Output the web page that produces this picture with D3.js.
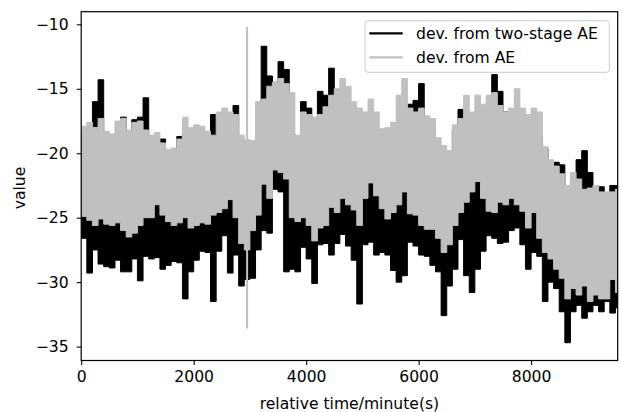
<!DOCTYPE html>
<html>
<head>
<meta charset="utf-8">
<script src="https://cdn.jsdelivr.net/npm/d3@7"></script>
<style>
  body { margin: 0; background: #fff; }
  text { font-family: "DejaVu Sans", sans-serif; font-size: 15.6px; fill: #000; }
</style>
</head>
<body>
<div class="chart"></div>
<script>
const width = 622;
const height = 412;

// start of each 100-minute bin; values are the min/max envelope
const binStart = d3.range(0, 9600, 100);

const twoStageHi = [
  -18.5, -19.5, -16.0, -14.3, -19.5, -19.8, -19.5, -17.2, -18.5, -17.4,
  -17.2, -15.7, -19.5, -20.0, -18.9, -20.3, -20.2, -18.7, -18.5, -19.0,
  -19.8, -19.8, -18.4, -17.0, -17.5, -19.0, -18.5, -16.3, -19.5, -19.0,
  -19.8, -19.0, -11.7, -14.0, -14.5, -12.9, -13.5, -18.5, -19.5, -16.0,
  -16.5, -19.4, -15.2, -15.5, -13.4, -16.5, -17.5, -16.8, -18.5, -17.2,
  -19.0, -19.5, -19.2, -18.3, -19.5, -19.5, -19.0, -18.0, -16.2, -15.9,
  -14.6, -17.5, -18.0, -19.6, -20.8, -20.5, -18.2, -16.6, -18.5, -18.5,
  -18.0, -17.5, -17.2, -13.9, -15.2, -16.8, -18.5, -17.0, -18.5, -18.5,
  -18.5, -18.8, -19.6, -21.0, -20.7, -20.9, -23.0, -22.0, -20.5, -19.8,
  -21.5, -23.0, -22.6, -23.5, -22.5, -22.5
];
const twoStageLo = [
  -26.6, -29.3, -27.5, -28.6, -28.8, -28.9, -28.3, -29.2, -29.2, -28.2,
  -29.9, -28.0, -28.2, -28.1, -29.0, -28.7, -28.4, -28.5, -31.3, -29.2,
  -28.3, -27.6, -27.7, -31.5, -27.6, -26.4, -29.3, -27.9, -30.3, -29.8,
  -29.7, -27.5, -26.0, -26.2, -22.8, -23.0, -29.2, -29.0, -29.2, -27.3,
  -28.2, -30.1, -27.1, -27.0, -27.9, -27.0, -26.3, -27.2, -28.3, -31.7,
  -27.1, -26.9, -27.9, -27.7, -27.9, -29.1, -30.0, -29.5, -26.9, -27.2,
  -27.9, -28.0, -28.7, -29.2, -32.6, -30.3, -29.0, -26.7, -29.5, -30.8,
  -29.0, -27.6, -26.4, -26.6, -27.0, -26.9, -26.0, -25.8, -27.1, -29.0,
  -27.7, -28.0, -31.5, -30.0, -30.5, -32.3, -34.7, -32.3, -31.8, -32.8,
  -32.3, -31.8, -32.3, -31.5, -32.4, -32.0
];
const aeHi = [
  -17.9, -17.6, -18.0, -17.3, -18.3, -18.5, -17.5, -17.3, -18.2, -17.6,
  -17.5, -18.2, -18.6, -18.4, -19.2, -19.7, -19.6, -18.9, -17.2, -18.0,
  -17.8, -17.9, -18.3, -18.6, -16.8, -16.5, -16.8, -17.0, -18.6, -19.0,
  -19.0, -16.0, -15.8, -14.8, -14.5, -14.2, -14.6, -15.3, -18.6, -16.8,
  -17.0, -17.2, -17.0, -16.4, -15.5, -15.0, -14.2, -14.8, -16.0, -16.5,
  -16.8, -15.8, -16.8, -18.1, -18.0, -17.6, -15.5, -14.2, -16.5, -16.8,
  -16.5, -17.1, -17.3, -18.8, -19.4, -19.8, -17.8, -17.3, -15.5, -16.8,
  -15.5, -16.2, -15.5, -15.3, -16.3, -16.8, -16.5, -15.0, -16.5, -17.0,
  -16.5, -16.8, -19.5, -20.5, -21.0, -21.6, -22.5, -21.5, -22.0, -22.8,
  -22.7, -22.5, -23.0, -23.0, -23.0, -22.8
];
const aeLo = [
  -24.9, -25.2, -25.6, -25.1, -25.5, -25.6, -25.4, -26.0, -26.5, -26.2,
  -25.6, -25.0, -25.0, -24.0, -24.8, -25.3, -25.6, -25.4, -25.0, -25.8,
  -25.6, -25.4, -25.5, -24.8, -24.6, -24.3, -23.6, -25.0, -27.0, -27.5,
  -26.0, -24.8, -22.4, -23.5, -21.3, -21.5, -22.0, -25.0, -25.3, -25.0,
  -25.6, -26.8, -25.8, -25.6, -24.2, -24.6, -23.5, -24.0, -24.4, -25.6,
  -23.5, -22.3, -23.3, -24.3, -25.1, -24.6, -24.0, -23.0, -24.7, -24.8,
  -25.6, -25.9, -25.9, -26.6, -27.7, -27.1, -25.6, -24.6, -23.8, -23.0,
  -22.2, -23.5, -24.5, -24.6, -23.8, -24.0, -23.5, -24.0, -24.5, -25.8,
  -24.6, -26.6, -27.7, -28.2, -29.0, -29.7, -31.3, -30.5, -31.0, -30.3,
  -31.5, -31.0, -31.3, -31.3, -29.8, -30.8
];
// single narrow excursion of the AE series
const aeSpikeT = [2950];
const aeSpikeHi = [-10.2];
const aeSpikeLo = [-33.6];

const xTicks = [0, 2000, 4000, 6000, 8000];
const yTicks = [-35, -30, -25, -20, -15, -10];
const seriesNames = ["dev. from two-stage AE", "dev. from AE"];
const seriesColors = ["#000000", "#c0c0c0"];

const x = d3.scaleLinear().domain([0, 9540]).range([81.2, 617.7]);
const y = d3.scaleLinear().domain([-36.08, -9.02]).range([360.5, 11.7]);

const svg = d3.select(".chart")
  .append("svg")
  .attr("width", width)
  .attr("height", height);

svg.append("rect").attr("width", width).attr("height", height).attr("fill", "#fff");

svg.append("clipPath")
  .attr("id", "plot-clip")
  .append("rect")
  .attr("x", x.range()[0])
  .attr("y", y.range()[1])
  .attr("width", x.range()[1] - x.range()[0])
  .attr("height", y.range()[0] - y.range()[1]);

const envelope = (hi, lo) => binStart.flatMap((t, i) => [
  { t: t, hi: hi[i], lo: lo[i] },
  { t: t + 100, hi: hi[i], lo: lo[i] }
]);

const area = d3.area()
  .x(d => x(d.t))
  .y0(d => y(d.lo))
  .y1(d => y(d.hi));

const plot = svg.append("g").attr("clip-path", "url(#plot-clip)");

plot.append("path")
  .datum(envelope(twoStageHi, twoStageLo))
  .attr("d", area)
  .attr("fill", seriesColors[0])
  .attr("stroke", seriesColors[0])
  .attr("stroke-width", 1);

plot.append("path")
  .datum(envelope(aeHi, aeLo))
  .attr("d", area)
  .attr("fill", seriesColors[1])
  .attr("stroke", seriesColors[1])
  .attr("stroke-width", 1);

plot.selectAll(".spike")
  .data(aeSpikeT)
  .enter()
  .append("line")
  .attr("class", "spike")
  .attr("x1", d => x(d))
  .attr("x2", d => x(d))
  .attr("y1", (d, i) => y(aeSpikeHi[i]))
  .attr("y2", (d, i) => y(aeSpikeLo[i]))
  .attr("stroke", seriesColors[1])
  .attr("stroke-width", 2);

// axes
const xAxis = d3.axisBottom(x).tickValues(xTicks).tickSize(4.5).tickPadding(6).tickFormat(d3.format("d"));
const yAxis = d3.axisLeft(y).tickValues(yTicks).tickSize(4.5).tickPadding(8);

const gx = svg.append("g")
  .attr("transform", `translate(0,${y.range()[0]})`)
  .call(xAxis);
const gy = svg.append("g")
  .attr("transform", `translate(${x.range()[0]},0)`)
  .call(yAxis);

[gx, gy].forEach(g => {
  g.select(".domain").remove();
  g.selectAll(".tick line").attr("stroke", "#000").attr("stroke-width", 1.1);
  g.selectAll(".tick text").attr("fill", "#000").style("font-size", "15.6px").attr("font-family", null);
});

svg.append("rect")
  .attr("x", x.range()[0])
  .attr("y", y.range()[1])
  .attr("width", x.range()[1] - x.range()[0])
  .attr("height", y.range()[0] - y.range()[1])
  .attr("fill", "none")
  .attr("stroke", "#000")
  .attr("stroke-width", 1.2);

svg.append("text")
  .attr("x", (x.range()[0] + x.range()[1]) / 2)
  .attr("y", 408.5)
  .attr("text-anchor", "middle")
  .text("relative time/minute(s)");

svg.append("text")
  .attr("transform", "translate(25,188) rotate(-90)")
  .attr("text-anchor", "middle")
  .text("value");

// legend
const legend = svg.append("g").attr("transform", "translate(365,20.7)");
legend.append("rect")
  .attr("width", 244.3)
  .attr("height", 51.6)
  .attr("rx", 3)
  .attr("fill", "#fff")
  .attr("fill-opacity", 0.8)
  .attr("stroke", "#cccccc")
  .attr("stroke-width", 1);

const item = legend.selectAll(".legend-item")
  .data(seriesNames)
  .enter()
  .append("g")
  .attr("class", "legend-item")
  .attr("transform", (d, i) => `translate(0,${12.6 + i * 24})`);

item.append("line")
  .attr("x1", 4.3)
  .attr("x2", 37.7)
  .attr("stroke", (d, i) => seriesColors[i])
  .attr("stroke-width", 2.3);

item.append("text")
  .attr("x", 51)
  .attr("dy", "0.35em")
  .text(d => d);
</script>
</body>
</html>
